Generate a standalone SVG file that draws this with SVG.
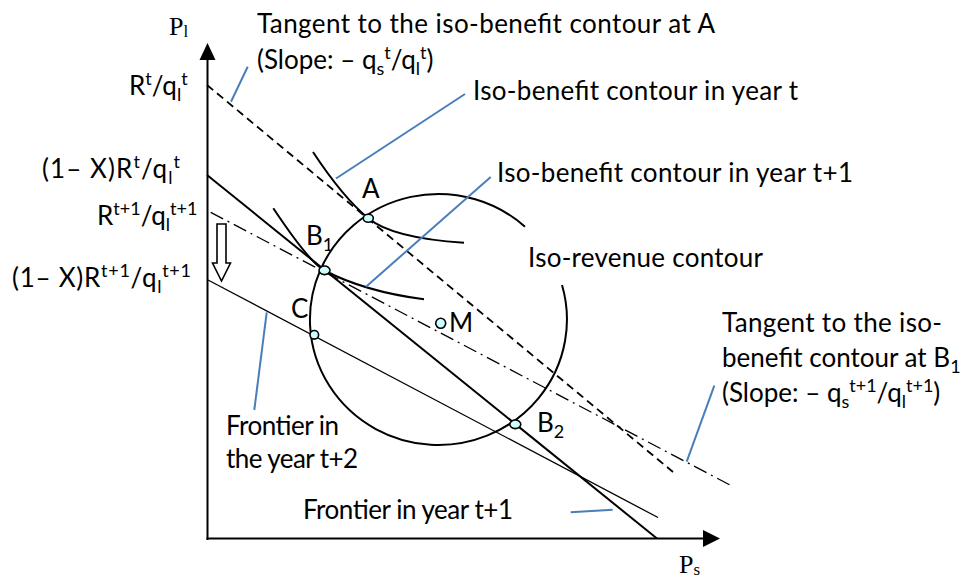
<svg xmlns="http://www.w3.org/2000/svg" width="966" height="581" viewBox="0 0 966 581">
<style>
.t{font-family:Lato,"Liberation Sans",sans-serif;font-size:26px;fill:#000}
.s{font-size:18px}
.ax{font-family:"Liberation Serif",serif;font-size:26px;fill:#000}
.axs{font-size:17px}
.lead{stroke:#4A7EBB;stroke-width:2;fill:none}
.pt{fill:#CCFFFF;stroke:#000;stroke-width:1.6}
.k{stroke:#000;fill:none}
</style>
<rect width="966" height="581" fill="#fff"/>
<g id="axes">
<line class="k" x1="207.5" y1="540" x2="207.5" y2="58" stroke-width="2"/>
<polygon points="207.5,43 199.5,60 215.5,60" fill="#000"/>
<line class="k" x1="206.5" y1="538.5" x2="705" y2="538.5" stroke-width="2"/>
<polygon points="720,538.5 703,530 703,547" fill="#000"/>
<text class="ax" x="169" y="35">P<tspan class="axs" dy="2">l</tspan></text>
<text class="ax" x="679" y="573">P<tspan class="axs" dy="2">s</tspan></text>
</g>
<g id="lines">
<path id="tangentA" class="k" d="M207 85 L673 472" stroke-width="1.8" stroke-dasharray="8 5"/>
<path id="frontier-t1" class="k" d="M207 175 L657 538.5" stroke-width="2"/>
<path id="tangentB1" class="k" d="M210.7 212.3 L730 485" stroke="#333" stroke-width="1.3" stroke-dasharray="14 5 2 5"/>
<path id="frontier-t2" class="k" d="M208 280 L658 517.5" stroke="#555" stroke-width="1.3"/>
<path id="iso-revenue" class="k" d="M525 226.7 A128.5 125.5 0 1 0 562 285" stroke-width="2"/>
<path id="iso-benefit-t" class="k" d="M313 152 Q343 197.5 368.3 218.3 Q392.3 238.2 464 242.8" stroke-width="2"/>
<path id="iso-benefit-t1" class="k" d="M273.3 208.3 Q309.5 262.6 324.5 270.5 Q364.5 291.5 424 299.3" stroke-width="2"/>
<polygon id="shift-arrow" points="217,224 226,224 226,263 230.5,263 221.5,281 212.5,263 217,263" fill="#fff" stroke="#000" stroke-width="1.6"/>
</g>
<g id="connectors">
<line class="lead" x1="247.7" y1="66.7" x2="231" y2="101.7"/>
<line class="lead" x1="465" y1="94" x2="336" y2="178.5"/>
<line class="lead" x1="490.7" y1="177" x2="366" y2="286.7"/>
<line class="lead" x1="266.7" y1="312.3" x2="254.3" y2="410"/>
<line class="lead" x1="570.7" y1="512.3" x2="612.7" y2="509.7"/>
<line class="lead" x1="714.3" y1="385.7" x2="686.7" y2="461.7"/>
</g>
<g id="point-A"><ellipse class="pt" cx="368.3" cy="218.3" rx="5" ry="4"/><text class="t" x="362" y="198">A</text></g>
<g id="point-B1"><ellipse class="pt" cx="324.5" cy="270.3" rx="5.5" ry="4.3"/><text class="t" x="306" y="245">B<tspan class="s" dy="6">1</tspan></text></g>
<g id="point-C"><circle class="pt" cx="314.3" cy="334.8" r="4.3"/><text class="t" x="291" y="318">C</text></g>
<g id="point-M"><circle class="pt" cx="440.7" cy="323.3" r="5"/><text class="t" x="449" y="332">M</text></g>
<g id="point-B2"><ellipse class="pt" cx="515.3" cy="424.3" rx="5.5" ry="4.3"/><text class="t" x="537" y="432">B<tspan class="s" dy="6">2</tspan></text></g>
<g id="labels">
<text class="t" x="257" y="33" textLength="458">Tangent to the iso-benefit contour at A</text>
<text class="t" x="257" y="69">(Slope: – q<tspan class="s" dy="6">s</tspan><tspan class="s" dy="-16">t</tspan><tspan dy="10">/q</tspan><tspan class="s" dy="6">l</tspan><tspan class="s" dy="-16">t</tspan><tspan dy="10">)</tspan></text>
<text class="t" x="129" y="95">R<tspan class="s" dy="-10">t</tspan><tspan dy="10">/q</tspan><tspan class="s" dy="6">l</tspan><tspan class="s" dy="-16">t</tspan></text>
<text class="t" x="473" y="100" textLength="325">Iso-benefit contour in year t</text>
<text class="t" x="42" y="178" textLength="138">(1– X)R<tspan class="s" dy="-10">t</tspan><tspan dy="10">/q</tspan><tspan class="s" dy="6">l</tspan><tspan class="s" dy="-16">t</tspan></text>
<text class="t" x="497" y="182" textLength="356">Iso-benefit contour in year t+1</text>
<text class="t" x="97" y="225">R<tspan class="s" dy="-10">t+1</tspan><tspan dy="10">/q</tspan><tspan class="s" dy="6">l</tspan><tspan class="s" dy="-16">t+1</tspan></text>
<text class="t" x="528" y="267" textLength="235">Iso-revenue contour</text>
<text class="t" x="12" y="287" textLength="179">(1– X)R<tspan class="s" dy="-10">t+1</tspan><tspan dy="10">/q</tspan><tspan class="s" dy="6">l</tspan><tspan class="s" dy="-16">t+1</tspan></text>
<text class="t" x="722" y="332" textLength="220">Tangent to the iso-</text>
<text class="t" x="722" y="367">benefit contour at B<tspan class="s" dy="6">1</tspan></text>
<text class="t" x="722" y="402">(Slope: – q<tspan class="s" dy="6">s</tspan><tspan class="s" dy="-16">t+1</tspan><tspan dy="10">/q</tspan><tspan class="s" dy="6">l</tspan><tspan class="s" dy="-16">t+1</tspan><tspan dy="10">)</tspan></text>
<text class="t" x="226" y="435" textLength="113">Frontier in</text>
<text class="t" x="226" y="468" textLength="132">the year t+2</text>
<text class="t" x="303" y="519" textLength="210">Frontier in year t+1</text>
</g>
</svg>
